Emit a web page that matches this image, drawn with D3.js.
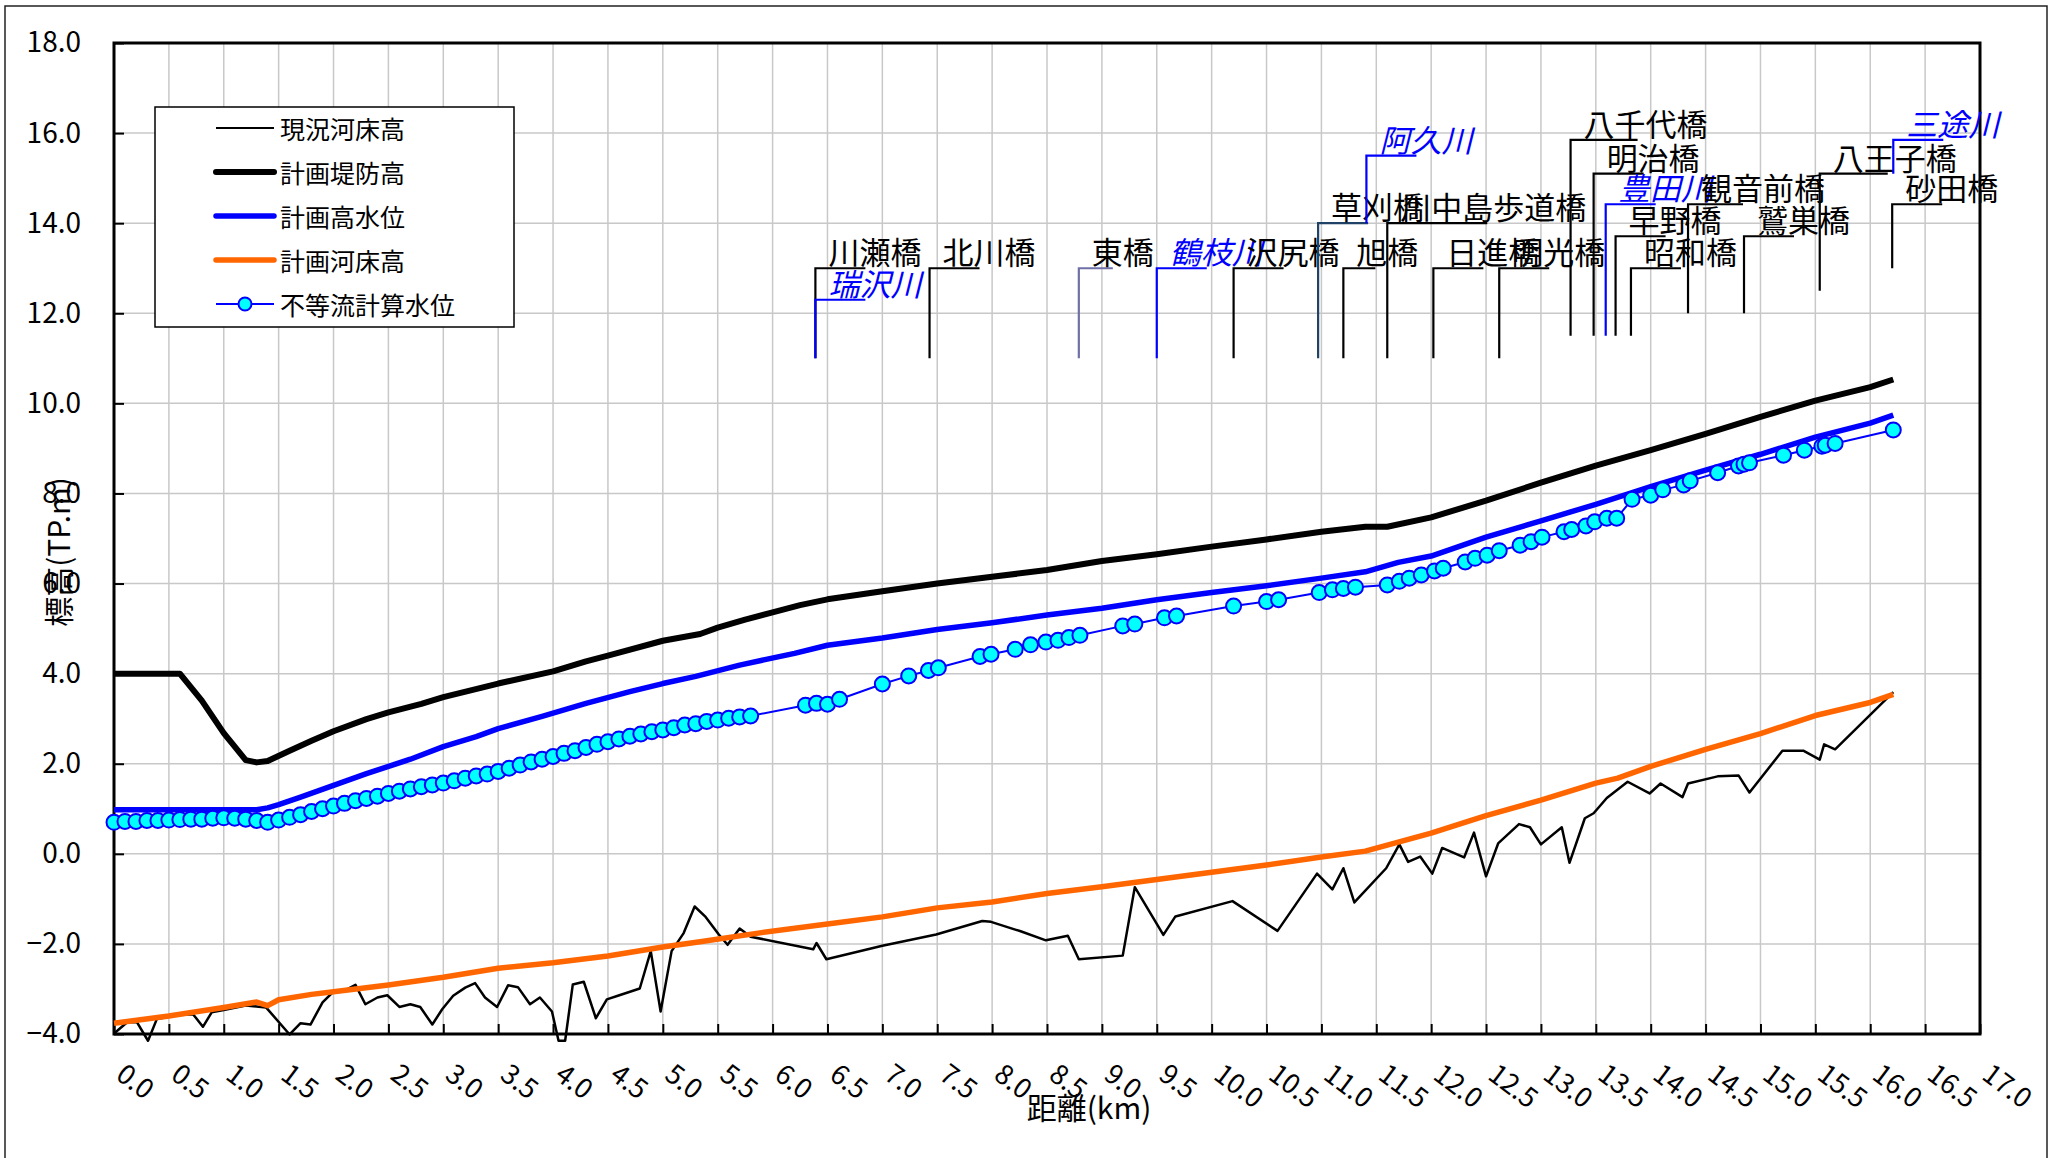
<!DOCTYPE html>
<html lang="ja">
  <head>
    <meta charset="utf-8">
    <title>縦断図</title>
    <script type="text/javascript" src="https://cdn.jsdelivr.net/npm/d3@7/dist/d3.min.js"></script>
    <style>
      body { margin: 0; background: #fff; }
      text { font-family: "Noto Sans CJK JP", "Noto Sans", sans-serif; }
    </style>
  </head>
  <body>
    <script type="text/javascript">

    var w = 2055;
    var h = 1158;

    // 現況河床高 [km, TP.m]
    var currentBed = [
      [0.0, -3.99], [0.12, -3.74], [0.21, -3.74], [0.31, -4.15], [0.39, -3.67],
      [0.5, -3.62], [0.6, -3.58], [0.72, -3.56], [0.81, -3.84], [0.89, -3.52],
      [1.0, -3.47], [1.2, -3.37], [1.385, -3.41], [1.6, -4.01], [1.7, -3.76],
      [1.79, -3.79], [1.9, -3.3], [1.99, -3.08], [2.13, -3.0], [2.2, -2.91],
      [2.29, -3.34], [2.4, -3.19], [2.49, -3.14], [2.6, -3.4], [2.7, -3.34],
      [2.79, -3.4], [2.9, -3.79], [2.99, -3.45], [3.09, -3.15], [3.2, -2.97],
      [3.29, -2.87], [3.38, -3.19], [3.49, -3.4], [3.59, -2.92], [3.68, -2.96],
      [3.79, -3.34], [3.88, -3.19], [3.99, -3.5], [4.05, -4.15], [4.11, -4.15],
      [4.18, -2.9], [4.28, -2.84], [4.39, -3.65], [4.49, -3.23], [4.59, -3.15],
      [4.68, -3.08], [4.79, -2.99], [4.89, -2.16], [4.98, -3.5], [5.08, -2.16],
      [5.19, -1.76], [5.29, -1.17], [5.39, -1.4], [5.51, -1.79], [5.59, -2.02],
      [5.7, -1.66], [5.8, -1.84], [6.37, -2.12], [6.4, -1.98], [6.49, -2.34],
      [7.0, -2.04], [7.24, -1.92], [7.49, -1.79], [7.91, -1.49], [7.99, -1.51],
      [8.26, -1.72], [8.49, -1.92], [8.69, -1.82], [8.79, -2.34], [9.19, -2.26],
      [9.3, -0.74], [9.56, -1.8], [9.67, -1.39], [10.19, -1.05], [10.6, -1.71],
      [10.96, -0.44], [11.1, -0.79], [11.2, -0.32], [11.3, -1.08], [11.59, -0.32],
      [11.71, 0.21], [11.79, -0.18], [11.9, -0.06], [12.01, -0.44], [12.1, 0.13],
      [12.3, -0.08], [12.39, 0.47], [12.5, -0.5], [12.61, 0.23], [12.8, 0.66],
      [12.9, 0.59], [13.0, 0.21], [13.19, 0.59], [13.26, -0.2], [13.4, 0.79],
      [13.48, 0.9], [13.6, 1.24], [13.79, 1.6], [13.99, 1.34], [14.09, 1.56],
      [14.29, 1.26], [14.34, 1.56], [14.61, 1.72], [14.8, 1.74], [14.9, 1.36],
      [15.2, 2.29], [15.39, 2.29], [15.54, 2.09], [15.58, 2.43], [15.68, 2.32],
      [16.21, 3.59]
    ];

    // 計画堤防高
    var leveeHeight = [
      [0.0, 4.0], [0.6, 4.0], [0.8, 3.4], [1.0, 2.68], [1.2, 2.08], [1.3, 2.03],
      [1.4, 2.06], [1.6, 2.29], [1.8, 2.51], [2.0, 2.72], [2.3, 2.99], [2.5, 3.14],
      [2.8, 3.33], [3.0, 3.48], [3.5, 3.78], [4.0, 4.05], [4.3, 4.27], [4.5, 4.4],
      [5.0, 4.73], [5.34, 4.88], [5.5, 5.02], [5.75, 5.2], [6.0, 5.36], [6.25, 5.52],
      [6.5, 5.65], [7.0, 5.83], [7.5, 6.0], [8.0, 6.15], [8.5, 6.3], [9.0, 6.5],
      [9.5, 6.65], [10.0, 6.82], [10.5, 6.98], [11.0, 7.15], [11.4, 7.26], [11.6, 7.26],
      [12.0, 7.47], [12.5, 7.84], [13.0, 8.24], [13.5, 8.62], [14.0, 8.96], [14.5, 9.32],
      [15.0, 9.7], [15.5, 10.06], [16.0, 10.36], [16.21, 10.53]
    ];

    // 計画高水位
    var highWater = [
      [0.0, 0.98], [1.3, 0.98], [1.4, 1.02], [1.5, 1.09], [1.7, 1.26], [2.0, 1.52],
      [2.3, 1.78], [2.7, 2.1], [3.0, 2.38], [3.3, 2.6], [3.5, 2.78], [3.9, 3.05],
      [4.3, 3.34], [4.7, 3.6], [5.0, 3.78], [5.3, 3.94], [5.7, 4.19], [6.2, 4.45],
      [6.5, 4.63], [7.0, 4.79], [7.5, 4.98], [8.0, 5.13], [8.5, 5.3], [9.0, 5.45],
      [9.5, 5.64], [10.0, 5.8], [10.5, 5.95], [11.0, 6.12], [11.4, 6.26], [11.7, 6.47],
      [12.0, 6.61], [12.5, 7.03], [13.0, 7.39], [13.5, 7.76], [14.0, 8.15], [14.5, 8.52],
      [15.0, 8.87], [15.5, 9.25], [16.0, 9.56], [16.21, 9.74]
    ];

    // 計画河床高
    var planBed = [
      [0.0, -3.76], [0.5, -3.6], [1.0, -3.41], [1.3, -3.29], [1.4, -3.37], [1.5, -3.24],
      [1.8, -3.12], [2.0, -3.06], [2.5, -2.91], [3.0, -2.74], [3.5, -2.54], [4.0, -2.42],
      [4.5, -2.27], [5.0, -2.07], [5.34, -1.95], [5.9, -1.75], [6.5, -1.56], [7.0, -1.4],
      [7.5, -1.2], [8.0, -1.07], [8.5, -0.88], [9.0, -0.73], [9.5, -0.57], [10.0, -0.41],
      [10.5, -0.25], [11.0, -0.07], [11.4, 0.06], [11.7, 0.26], [12.0, 0.46], [12.5, 0.85],
      [13.0, 1.19], [13.5, 1.57], [13.7, 1.68], [14.0, 1.94], [14.5, 2.32], [15.0, 2.67],
      [15.5, 3.07], [16.0, 3.36], [16.21, 3.54]
    ];

    // 不等流計算水位
    var calcWater = [
      [0.0, 0.7], [0.1, 0.72], [0.2, 0.72], [0.3, 0.74], [0.4, 0.74], [0.5, 0.75],
      [0.6, 0.76], [0.7, 0.77], [0.8, 0.77], [0.9, 0.79], [1.0, 0.8], [1.1, 0.79],
      [1.2, 0.77], [1.3, 0.74], [1.4, 0.7], [1.5, 0.75], [1.6, 0.81], [1.7, 0.87],
      [1.8, 0.94], [1.9, 1.0], [2.0, 1.06], [2.1, 1.12], [2.2, 1.18], [2.3, 1.23],
      [2.4, 1.28], [2.5, 1.34], [2.6, 1.39], [2.7, 1.44], [2.8, 1.49], [2.9, 1.53],
      [3.0, 1.57], [3.1, 1.62], [3.2, 1.68], [3.3, 1.73], [3.4, 1.77], [3.5, 1.83],
      [3.6, 1.9], [3.7, 1.97], [3.8, 2.04], [3.9, 2.1], [4.0, 2.16], [4.1, 2.23],
      [4.2, 2.29], [4.3, 2.36], [4.4, 2.43], [4.5, 2.49], [4.6, 2.55], [4.7, 2.61],
      [4.8, 2.66], [4.9, 2.71], [5.0, 2.75], [5.1, 2.8], [5.2, 2.86], [5.3, 2.89],
      [5.4, 2.94], [5.5, 2.97], [5.6, 3.01], [5.7, 3.04], [5.8, 3.06],
      [6.3, 3.3], [6.4, 3.34], [6.5, 3.32], [6.61, 3.43], [7.0, 3.77], [7.24, 3.95],
      [7.42, 4.07], [7.51, 4.13], [7.89, 4.38], [7.99, 4.43], [8.21, 4.54], [8.35, 4.64],
      [8.49, 4.7], [8.6, 4.74], [8.7, 4.8], [8.8, 4.85], [9.19, 5.06], [9.3, 5.1],
      [9.57, 5.24], [9.68, 5.28], [10.2, 5.5], [10.5, 5.6], [10.61, 5.64], [10.98, 5.8],
      [11.1, 5.86], [11.2, 5.89], [11.31, 5.92], [11.6, 5.97], [11.71, 6.05], [11.8, 6.12],
      [11.91, 6.19], [12.03, 6.28], [12.11, 6.34], [12.31, 6.48], [12.4, 6.56], [12.51, 6.63],
      [12.62, 6.73], [12.81, 6.85], [12.91, 6.93], [13.01, 7.03], [13.21, 7.15], [13.28, 7.2],
      [13.41, 7.28], [13.49, 7.37], [13.6, 7.45], [13.69, 7.45], [13.83, 7.87], [14.0, 7.96],
      [14.11, 8.08], [14.3, 8.19], [14.36, 8.28], [14.61, 8.46], [14.8, 8.61], [14.85, 8.65],
      [14.9, 8.68], [15.21, 8.85], [15.4, 8.96], [15.56, 9.05], [15.59, 9.07], [15.68, 9.11],
      [16.21, 9.41]
    ];

    // 橋梁・支川の位置 (km) と引出線の上端・下端 (TP.m)
    var siteNames  = ["川瀬橋", "瑞沢川", "北川橋", "東橋", "鶴枝川", "沢尻橋", "草刈橋", "阿久川",
                      "旭橋", "川中島歩道橋", "日進橋", "明光橋", "八千代橋", "明治橋", "豊田川",
                      "早野橋", "昭和橋", "観音前橋", "鷲巣橋", "八王子橋", "三途川", "砂田橋"];
    var siteKm     = [6.39, 6.39, 7.43, 8.79, 9.5, 10.2, 10.97, 11.41, 11.2, 11.6, 12.02, 12.62,
                      13.27, 13.48, 13.59, 13.68, 13.82, 14.34, 14.85, 15.54, 16.21, 16.2];
    var siteBottom = [11.0, 11.0, 11.0, 11.0, 11.0, 11.0, 11.0, 14.0, 11.0, 11.0, 11.0, 11.0,
                      11.5, 11.5, 11.5, 11.5, 11.5, 12.0, 12.0, 12.5, 15.1, 13.0];
    var siteTop    = [13.0, 12.3, 13.0, 13.0, 13.0, 13.0, 14.0, 15.5, 13.0, 14.0, 13.0, 13.0,
                      15.85, 15.1, 14.42, 13.71, 13.0, 14.42, 13.71, 15.1, 15.85, 14.42];
    var siteIsRiver = [false, true, false, false, true, false, false, true, false, false, false, false,
                       false, false, true, false, false, false, false, false, true, false];

    var xTicks = d3.range(0, 17.01, 0.5);
    var yTicks = d3.range(-4, 18.01, 2);

    // styles
    var leaderTail = { "東橋": 34, "旭橋": 32, "川中島歩道橋": 100, "八千代橋": 67, "観音前橋": 55, "八王子橋": 68 };
    var leaderColor = { "東橋": "#7070a8", "草刈橋": "#1f4266" };

    var xScale = d3.scaleLinear().domain([0, 17]).range([114, 1980]);
    var yScale = d3.scaleLinear().domain([-4, 18]).range([1034, 43]);

    var mySvg = d3.select("body")
                  .append("svg")
                  .attr("width", w)
                  .attr("height", h);

    mySvg.append("rect")
         .attr("width", w).attr("height", h)
         .attr("fill", "#fff");

    // outer chart border
    mySvg.append("rect")
         .attr("x", 5).attr("y", 6)
         .attr("width", 2042).attr("height", 1170)
         .attr("fill", "none")
         .attr("stroke", "#222")
         .attr("stroke-width", 1.5);

    // grid
    mySvg.append("g").selectAll("line")
         .data(xTicks.slice(1, -1))
         .enter().append("line")
         .attr("x1", function(d) { return xScale(d); })
         .attr("x2", function(d) { return xScale(d); })
         .attr("y1", yScale(18)).attr("y2", yScale(-4))
         .attr("stroke", "#c8c8c8").attr("stroke-width", 1.5);

    mySvg.append("g").selectAll("line")
         .data(yTicks.slice(1, -1))
         .enter().append("line")
         .attr("y1", function(d) { return yScale(d); })
         .attr("y2", function(d) { return yScale(d); })
         .attr("x1", xScale(0)).attr("x2", xScale(17))
         .attr("stroke", "#c8c8c8").attr("stroke-width", 1.5);

    // axes
    var xAxis = d3.axisBottom(xScale)
                  .tickValues(xTicks)
                  .tickSizeInner(-10)
                  .tickSizeOuter(0)
                  .tickFormat(d3.format(".1f"));

    var yAxis = d3.axisLeft(yScale)
                  .tickValues(yTicks)
                  .tickSizeInner(-10)
                  .tickSizeOuter(0)
                  .tickPadding(33)
                  .tickFormat(d3.format(".1f"));

    var gx = mySvg.append("g")
                  .attr("transform", "translate(0," + yScale(-4) + ")")
                  .call(xAxis);
    gx.select(".domain").remove();
    gx.selectAll(".tick line").attr("stroke", "#000").attr("stroke-width", 2);
    gx.selectAll(".tick text")
      .attr("x", 0).attr("y", 0).attr("dy", null)
      .attr("text-anchor", "start")
      .attr("transform", "translate(0,44) rotate(37)")
      .attr("font-size", 27)
      .attr("font-family", "Noto Sans CJK JP")
      .attr("fill", "#000");

    var gy = mySvg.append("g")
                  .attr("transform", "translate(" + xScale(0) + ",0)")
                  .call(yAxis);
    gy.select(".domain").remove();
    gy.selectAll(".tick line").attr("stroke", "#000").attr("stroke-width", 2);
    gy.selectAll(".tick text")
      .attr("font-size", 28)
      .attr("font-family", "Noto Sans CJK JP")
      .attr("fill", "#000");

    // plot frame
    mySvg.append("rect")
         .attr("x", xScale(0)).attr("y", yScale(18))
         .attr("width", xScale(17) - xScale(0))
         .attr("height", yScale(-4) - yScale(18))
         .attr("fill", "none")
         .attr("stroke", "#000")
         .attr("stroke-width", 3);

    // axis titles
    mySvg.append("text")
         .attr("transform", "translate(57,552) rotate(-90)")
         .attr("text-anchor", "middle")
         .attr("dominant-baseline", "central")
         .attr("font-size", 30)
         .text("標高(TP.m)");

    mySvg.append("text")
         .attr("x", 1089).attr("y", 1119)
         .attr("text-anchor", "middle")
         .attr("font-size", 30)
         .text("距離(km)");

    // series lines
    var line = d3.line()
                 .x(function(d) { return xScale(d[0]); })
                 .y(function(d) { return yScale(d[1]); });

    var series = [
      { data: currentBed, color: "#000", width: 2.5 },
      { data: leveeHeight, color: "#000", width: 6 },
      { data: highWater, color: "#0000ff", width: 5.5 },
      { data: planBed, color: "#ff6600", width: 5.5 },
      { data: calcWater, color: "#0000ff", width: 2 }
    ];

    mySvg.append("g").selectAll("path")
         .data(series)
         .enter().append("path")
         .attr("d", function(d) { return line(d.data); })
         .attr("fill", "none")
         .attr("stroke", function(d) { return d.color; })
         .attr("stroke-width", function(d) { return d.width; })
         .attr("stroke-linejoin", "round");

    mySvg.append("g").selectAll("circle")
         .data(calcWater)
         .enter().append("circle")
         .attr("cx", function(d) { return xScale(d[0]); })
         .attr("cy", function(d) { return yScale(d[1]); })
         .attr("r", 7.5)
         .attr("fill", "#00ffff")
         .attr("stroke", "#0000ff")
         .attr("stroke-width", 2);

    // bridge / tributary leaders
    var sites = siteNames.map(function(name, i) {
      return { name: name, km: siteKm[i], bottom: siteBottom[i], top: siteTop[i], river: siteIsRiver[i] };
    });

    var gs = mySvg.append("g").selectAll("g")
                  .data(sites)
                  .enter().append("g");

    gs.append("path")
      .attr("d", function(d) {
        var x0 = xScale(d.km);
        var t = leaderTail[d.name] || 50;
        return "M" + x0 + "," + yScale(d.bottom) + "V" + yScale(d.top) + "H" + (x0 + t);
      })
      .attr("fill", "none")
      .attr("stroke", function(d) { return d.river ? "#0000ff" : (leaderColor[d.name] || "#000"); })
      .attr("stroke-width", 2.2);

    gs.append("text")
      .attr("x", function(d) { return xScale(d.km) + 13; })
      .attr("y", function(d) { return yScale(d.top) - 4; })
      .attr("font-size", 31)
      .attr("font-style", function(d) { return d.river ? "italic" : null; })
      .attr("fill", function(d) { return d.river ? "#0000ff" : "#000"; })
      .text(function(d) { return d.name; });

    // legend
    var legendNames = ["現況河床高", "計画堤防高", "計画高水位", "計画河床高", "不等流計算水位"];
    var lg = mySvg.append("g");
    lg.append("rect")
      .attr("x", 155).attr("y", 107)
      .attr("width", 359).attr("height", 220)
      .attr("fill", "#fff")
      .attr("stroke", "#000")
      .attr("stroke-width", 1.5);

    var rows = lg.selectAll("g.row")
                 .data(legendNames)
                 .enter().append("g")
                 .attr("class", "row")
                 .attr("transform", function(d, i) { return "translate(0," + (128 + i * 44) + ")"; });

    rows.append("line")
        .attr("x1", 216).attr("x2", 274)
        .attr("stroke", function(d, i) { return series[i].color; })
        .attr("stroke-width", function(d, i) { return i == 0 ? 2 : series[i].width; })
        .attr("stroke-linecap", function(d, i) { return i == 0 || i == 4 ? "butt" : "round"; });

    rows.filter(function(d, i) { return i == 4; })
        .append("circle")
        .attr("cx", 245).attr("r", 6.5)
        .attr("fill", "#00ffff")
        .attr("stroke", "#0000ff")
        .attr("stroke-width", 2);

    rows.append("text")
        .attr("x", 280)
        .attr("dominant-baseline", "central")
        .attr("font-size", 25)
        .text(function(d) { return d; });

    </script>
  </body>
</html>
